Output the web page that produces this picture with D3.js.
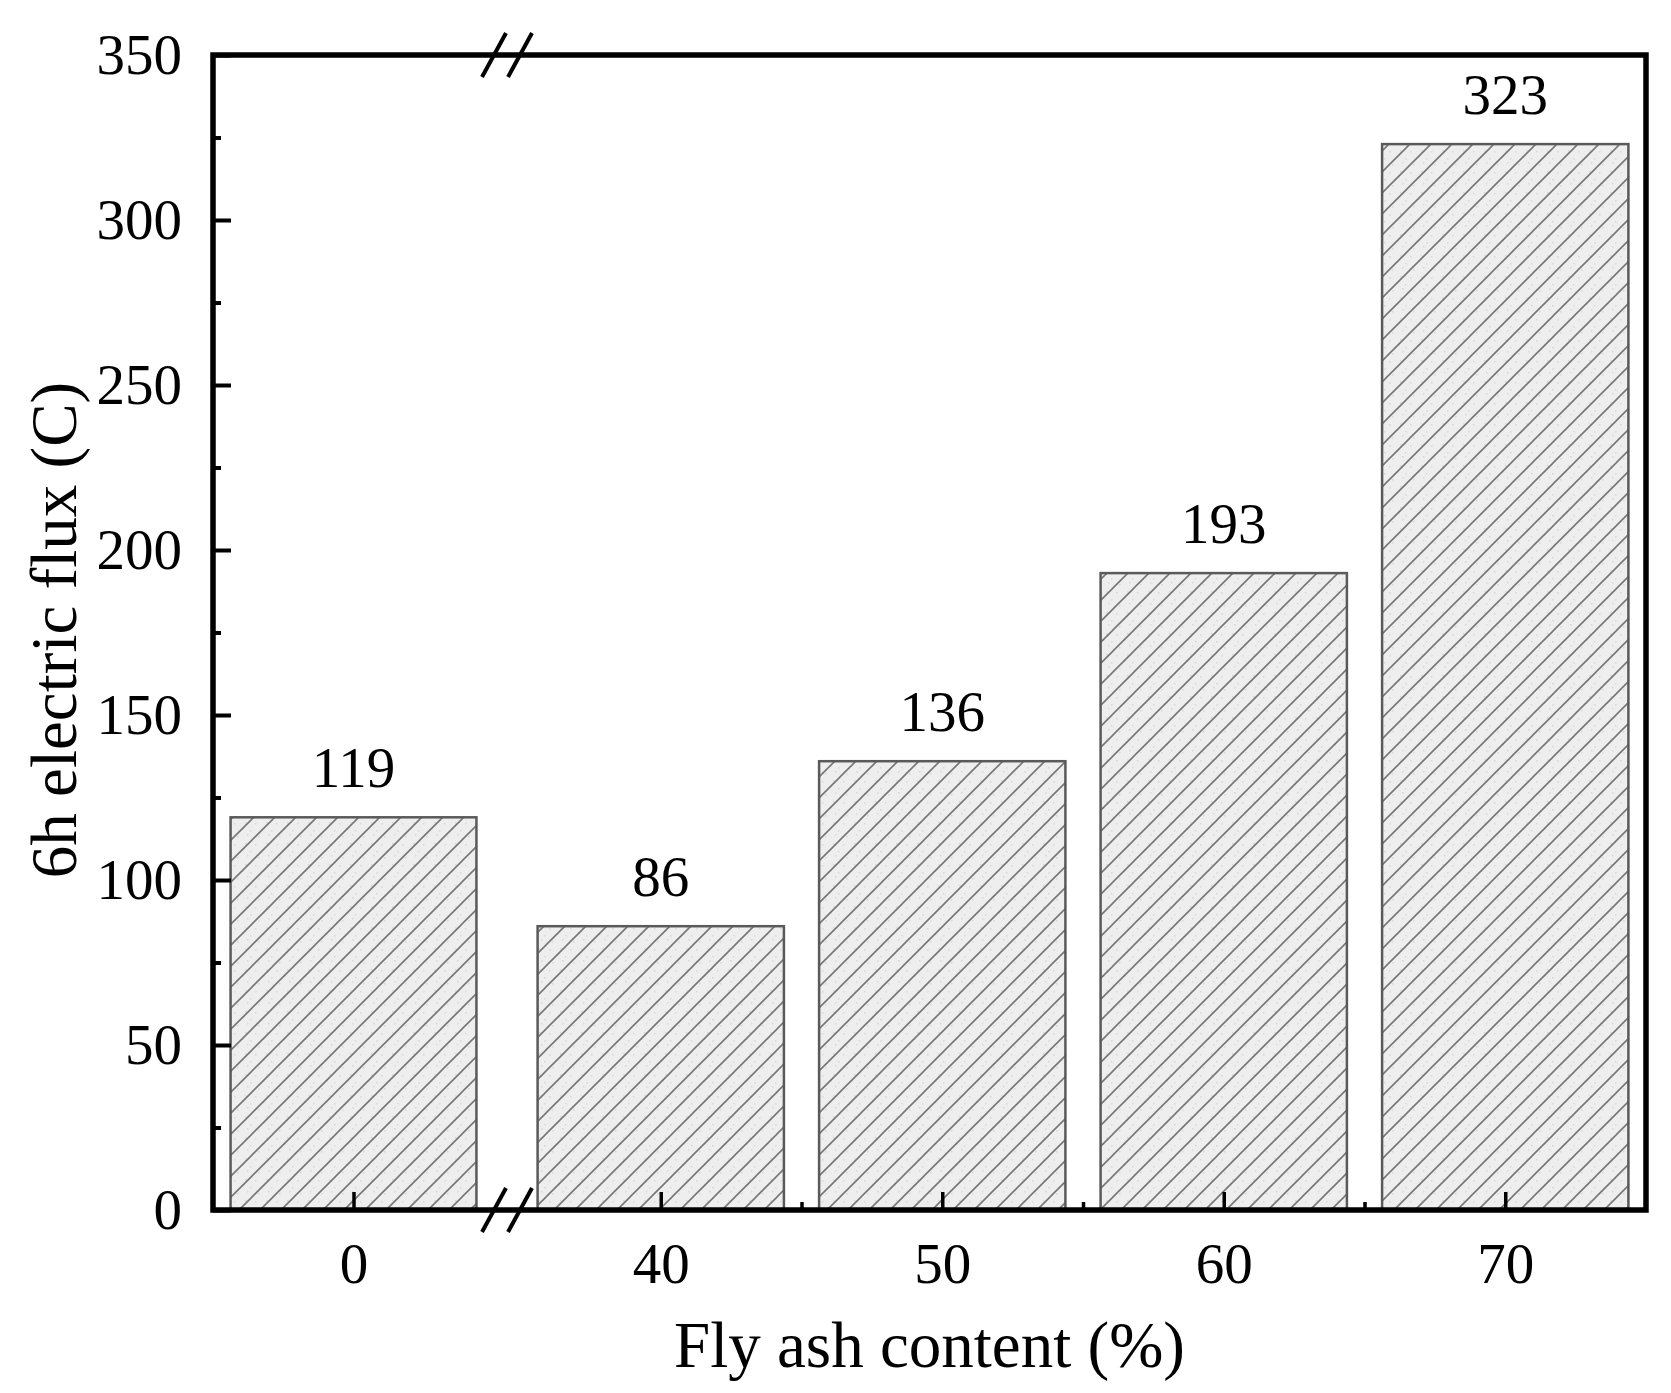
<!DOCTYPE html>
<html>
<head>
<meta charset="utf-8">
<script src="https://cdn.jsdelivr.net/npm/d3@7"></script>
<style>
  html, body { margin: 0; padding: 0; background: #fff; }
  svg { display: block; }
  text { font-family: "Liberation Serif", "Times New Roman", serif; fill: #000; }
</style>
</head>
<body>
<svg id="chart" width="1671" height="1393"></svg>
<script>
// ---- data ----
const categories = ["0", "40", "50", "60", "70"];
const xValues = [0, 40, 50, 60, 70];
const fluxValues = [119, 86, 136, 193, 323];
const yMajorTicks = [0, 50, 100, 150, 200, 250, 300, 350];
const yMinorTicks = [25, 75, 125, 175, 225, 275, 325];
const xMinorTicks = [45, 55, 65];
const xTitle = "Fly ash content (%)";
const yTitle = "6h electric flux (C)";

// ---- layout ----
const L = 213, R = 1646, T = 55, B = 1210;
const svg = d3.select("#chart");

// broken x axis: [-5,5] | break | [35,75]
const x = d3.scaleLinear().domain([-5, 5, 35, 75]).range([L, 494, 520, R]);
const y = d3.scaleLinear().domain([0, 350]).range([B, T]);
const barUnits = 8.75;

// hatch pattern
const defs = svg.append("defs");
const pat = defs.append("pattern")
  .attr("id", "hatch").attr("patternUnits", "userSpaceOnUse")
  .attr("width", 21).attr("height", 21);
pat.append("rect").attr("width", 21).attr("height", 21).attr("fill", "#eeeeee");
[[3,4],[11,9],[16,15],[6,17],[14,3],[19,11]].forEach(d =>
  pat.append("rect").attr("x", d[0]).attr("y", d[1]).attr("width", 1.5).attr("height", 1.5).attr("fill", "#d9d9d9"));
pat.append("path").attr("d", "M-2,23 L23,-2 M-2,2 L2,-2 M19,23 L23,19")
  .attr("stroke", "#777").attr("stroke-width", 1.6).attr("fill", "none");

// bars
svg.append("g").selectAll("rect").data(xValues).join("rect")
  .attr("x", (d) => x(d - barUnits / 2))
  .attr("width", (d) => x(d + barUnits / 2) - x(d - barUnits / 2))
  .attr("y", (d, i) => y(fluxValues[i]))
  .attr("height", (d, i) => y(0) - y(fluxValues[i]))
  .attr("fill", "url(#hatch)")
  .attr("stroke", "#5a5a5a").attr("stroke-width", 2.5);

// value labels
svg.append("g").selectAll("text").data(xValues).join("text")
  .attr("x", (d) => x(d))
  .attr("y", (d, i) => y(fluxValues[i]) - 30)
  .attr("text-anchor", "middle")
  .attr("font-size", 57)
  .text((d, i) => fluxValues[i]);

// y axis (ticks inward)
const yAxis = svg.append("g").attr("transform", `translate(${L},0)`)
  .call(d3.axisLeft(y).tickValues(yMajorTicks).tickSize(-18).tickPadding(31).tickFormat(d3.format("d")));
yAxis.select(".domain").remove();
yAxis.selectAll(".tick line").attr("stroke", "#000").attr("stroke-width", 4);
yAxis.selectAll("text").attr("font-size", 57).attr("font-family", "Liberation Serif, serif");

const yMinor = svg.append("g").attr("transform", `translate(${L},0)`)
  .call(d3.axisLeft(y).tickValues(yMinorTicks).tickSize(-8).tickFormat(""));
yMinor.select(".domain").remove();
yMinor.selectAll(".tick line").attr("stroke", "#000").attr("stroke-width", 4);

// x axis (ticks inward)
const xAxis = svg.append("g").attr("transform", `translate(0,${B})`)
  .call(d3.axisBottom(x).tickValues(xValues).tickSize(-18).tickFormat((d, i) => categories[i]));
xAxis.select(".domain").remove();
xAxis.selectAll(".tick line").attr("stroke", "#000").attr("stroke-width", 3.5);
xAxis.selectAll("text").attr("font-size", 57).attr("font-family", "Liberation Serif, serif")
  .attr("y", 73).attr("dy", 0);

const xMinor = svg.append("g").attr("transform", `translate(0,${B})`)
  .call(d3.axisBottom(x).tickValues(xMinorTicks).tickSize(-8).tickFormat(""));
xMinor.select(".domain").remove();
xMinor.selectAll(".tick line").attr("stroke", "#000").attr("stroke-width", 3.5);

// frame
svg.append("rect").attr("x", L).attr("y", T).attr("width", R - L).attr("height", B - T)
  .attr("fill", "none").attr("stroke", "#000").attr("stroke-width", 5.5);

// break marks on top and bottom axes
const breakXs = [x(5), x(35)];
[T, B].forEach(yy => {
  breakXs.forEach(bx => {
    svg.append("line")
      .attr("x1", bx - 12).attr("y1", yy + 22)
      .attr("x2", bx + 12).attr("y2", yy - 22)
      .attr("stroke", "#000").attr("stroke-width", 4);
  });
});

// axis titles
svg.append("text").attr("x", (L + R) / 2).attr("y", 1367)
  .attr("text-anchor", "middle").attr("font-size", 65).text(xTitle);
svg.append("text").attr("transform", `translate(76,630) rotate(-90)`)
  .attr("text-anchor", "middle").attr("font-size", 65).text(yTitle);
</script>
</body>
</html>
